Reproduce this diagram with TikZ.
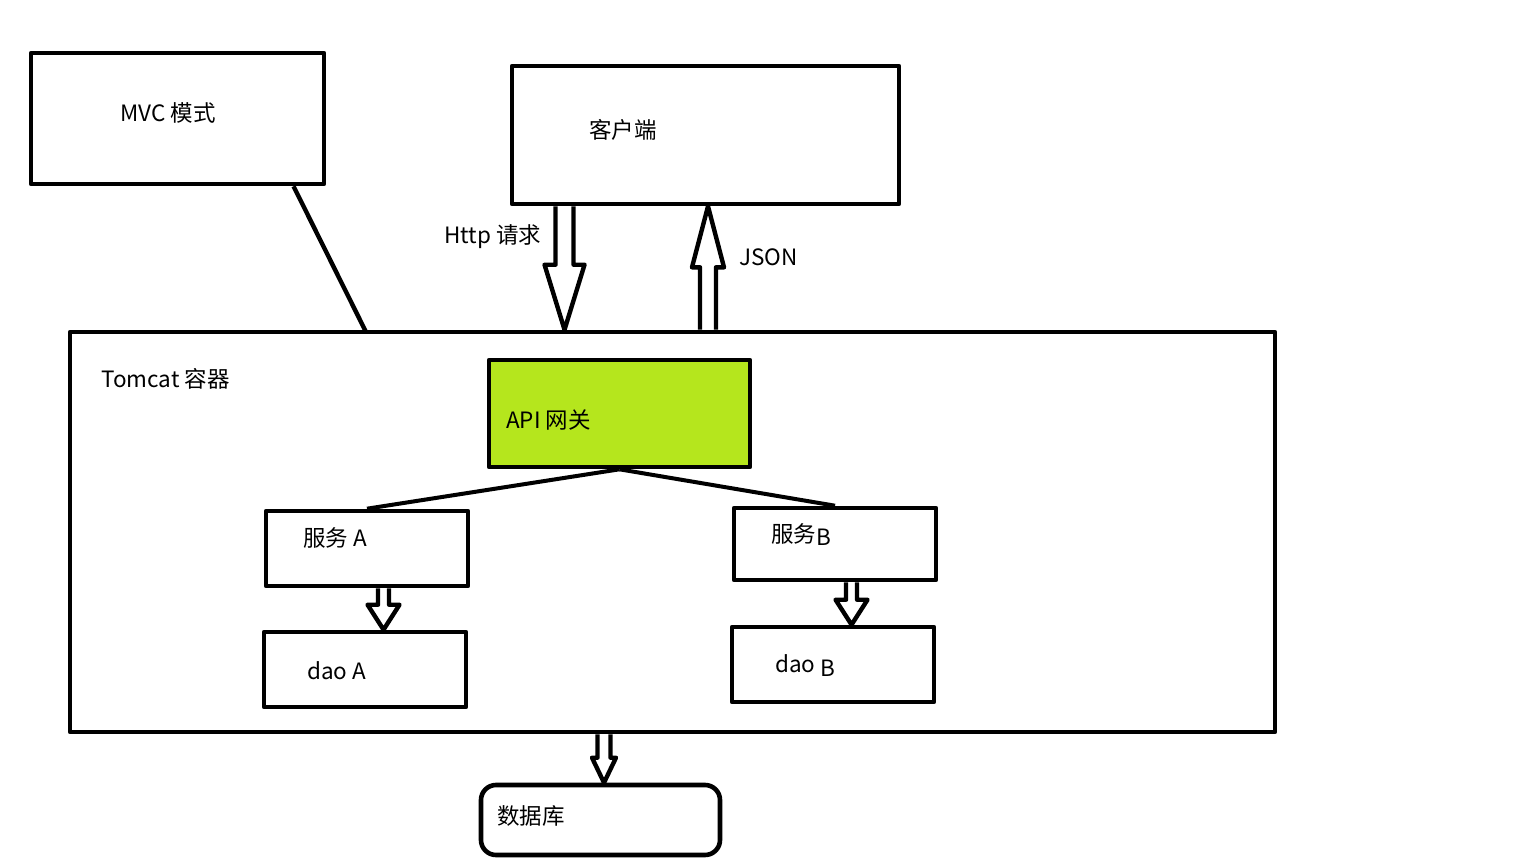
\documentclass[tikz,border=0pt]{standalone}
\usepackage{fontspec}
\setmainfont{Noto Sans CJK SC}
\usetikzlibrary{calc}
\definecolor{apigreen}{RGB}{181,230,29}
% hollow block arrow: from, to, shaft half width, head half width, head length
\newcommand{\hollowarrow}[5]{%
  \draw[blockarrow] let \p1=(#1), \p2=(#2), \p3=($(#2)!#5!(#1)$) in
    (\x1-#3,\y1) -- (\x1-#3,\y3) -- (\x1-#4,\y3) -- (\x2,\y2) -- (\x1+#4,\y3) -- (\x1+#3,\y3) -- (\x1+#3,\y1);}
\begin{document}
\begin{tikzpicture}[x=1pt, y=-1pt, line join=round, font=\fontsize{22.5}{27}\selectfont,
    box/.style={draw, line width=4.6pt, inner sep=0pt},
    blockarrow/.style={draw, line width=4.4pt, fill=white},
    lbl/.style={anchor=west, inner sep=0pt}]
  \useasboundingbox (0,0) rectangle (1536,864);
  % boxes
  \node[box, minimum width=293, minimum height=131] (mvc) at (177.5,118.5) {};
  \node[box, minimum width=387, minimum height=138] (client) at (705.5,135) {};
  \node[box, minimum width=1205, minimum height=400] (tomcat) at (672.5,532) {};
  \node[box, fill=apigreen, minimum width=261, minimum height=107] (api) at (619.5,413.5) {};
  \node[box, minimum width=202, minimum height=75] (svcA) at (367,548.5) {};
  \node[box, minimum width=202, minimum height=72] (svcB) at (835,544) {};
  \node[box, minimum width=202, minimum height=75] (daoA) at (365,669.5) {};
  \node[box, minimum width=202, minimum height=75] (daoB) at (833,664.5) {};
  \node[box, rounded corners=15, minimum width=239, minimum height=70] (db) at (600.5,820) {};
  % texts
  \node[lbl] (mvcT) at (120,113) {MVC 模式};
  \node[lbl] (clientT) at (589,130) {客户端};
  \node[lbl] (httpT) at (444,237) {Http 请求};
  \node[lbl] (jsonT) at (739,257) {JSON};
  \node[lbl] (tomcatT) at (101,379) {Tomcat 容器};
  \node[lbl] (apiT) at (506,420) {API 网关};
  \node[lbl] (svcAT) at (303,538) {服务 A};
  \node[lbl] (svcBT) at (771,535) {服务\raisebox{-3pt}{B}};
  \node[lbl] (daoAT) at (307,671) {dao A};
  \node[lbl] (daoBT) at (775,666) {dao \raisebox{-4pt}{B}};
  \node[lbl] (dbT) at (497,816) {数据库};
  % connectors
  \coordinate (mvcS) at ($(mvc.south west)!0.89!(mvc.south east)$);
  \coordinate (mvcE) at (366,332);
  \draw[line width=4.4pt] (mvcS) -- (mvcE);
  \draw[line width=4pt] (api.south) -- (svcA.north);
  \draw[line width=4pt] (api.south) -- (svcB.north);
  \coordinate (httpS) at ($(client.south west)!0.14!(client.south east)$);
  \coordinate (httpE) at (tomcat.north -| httpS);
  \coordinate (jsonS) at ($(tomcat.north -| client.south)+(2.5,0)$);
  \coordinate (jsonE) at (client.south -| jsonS);
  \coordinate (aS) at ($(svcA.south west)!0.58!(svcA.south east)$);
  \coordinate (aE) at (daoA.north -| aS);
  \coordinate (bS) at ($(svcB.south west)!0.58!(svcB.south east)$);
  \coordinate (bE) at (daoB.north -| bS);
  \coordinate (dbE) at ($(db.north)+(3.5,0)$);
  \coordinate (dbS) at (tomcat.south -| dbE);
  \hollowarrow{httpS}{httpE}{9pt}{20pt}{65pt}
  \hollowarrow{jsonS}{jsonE}{8pt}{16pt}{61pt}
  \hollowarrow{aS}{aE}{5.5pt}{16pt}{25pt}
  \hollowarrow{bS}{bE}{5.5pt}{16pt}{25pt}
  \hollowarrow{dbS}{dbE}{6.5pt}{12pt}{25pt}
\end{tikzpicture}
\end{document}
